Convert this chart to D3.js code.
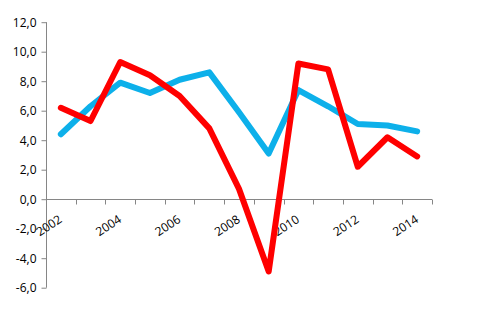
<!DOCTYPE html>
<html lang="en">
<head>
	<meta charset="UTF-8">
	<title>Chart</title>
	<style>
		body { margin: 0; background: #fff; }
		text { font-family: "Open Sans", "Liberation Sans", sans-serif; font-size: 12px; fill: #000; }
	</style>
</head>
<body>
	<script src="https://d3js.org/d3.v7.min.js"></script>
	<script>
		var years = [2002, 2003, 2004, 2005, 2006, 2007, 2008, 2009, 2010, 2011, 2012, 2013, 2014];
		var blueValues = [4.4, 6.3, 7.9, 7.2, 8.1, 8.6, 5.9, 3.1, 7.4, 6.3, 5.1, 5.0, 4.6];
		var redValues = [6.2, 5.3, 9.3, 8.4, 7.0, 4.8, 0.7, -4.9, 9.2, 8.8, 2.2, 4.2, 2.9];
		var yTicks = [-6, -4, -2, 0, 2, 4, 6, 8, 10, 12];
		var xLabels = [2002, 2004, 2006, 2008, 2010, 2012, 2014];

		var w = 491, h = 324;
		var plotLeft = 46, plotRight = 432, plotTop = 22.2, plotBottom = 287.7;

		var svg = d3.select("body").append("svg")
			.attr("width", w)
			.attr("height", h);

		var x = d3.scaleBand().domain(years).range([plotLeft, plotRight]).padding(0);
		var y = d3.scaleLinear().domain([-6, 12]).range([plotBottom, plotTop]);

		var fmt = function(d) { return d3.format(".1f")(d).replace(".", ",").replace("−", "-"); };

		// y axis
		var yAxis = svg.append("g")
			.attr("transform", "translate(" + (plotLeft + 0.5) + ",0)")
			.call(d3.axisLeft(y).tickValues(yTicks).tickFormat(fmt).tickSize(5).tickPadding(5));
		yAxis.selectAll("path, line").attr("stroke", "#868686");
		yAxis.select(".domain").attr("d", "M0," + y(-6) + "V" + y(12));
		yAxis.selectAll("text").style("font-family", "Open Sans, Liberation Sans, sans-serif").style("font-size", "12px").attr("fill", "#000");

		// x axis at zero
		var y0 = Math.round(y(0)) + 0.5;
		var xAxis = svg.append("g");
		xAxis.append("line")
			.attr("x1", plotLeft).attr("x2", plotRight)
			.attr("y1", y0).attr("y2", y0)
			.attr("stroke", "#868686");
		var bounds = years.map(function(d) { return x(d); }).concat([plotRight]);
		xAxis.selectAll("line.tick")
			.data(bounds)
			.enter()
			.append("line")
			.attr("class", "tick")
			.attr("x1", function(d) { return Math.round(d) + 0.5; })
			.attr("x2", function(d) { return Math.round(d) + 0.5; })
			.attr("y1", y0).attr("y2", y0 + 5)
			.attr("stroke", "#868686");
		xAxis.selectAll("text")
			.data(xLabels)
			.enter()
			.append("text")
			.text(function(d) { return d; })
			.attr("text-anchor", "end")
			.attr("transform", function(d) {
				return "translate(" + (x(d) + x.bandwidth() / 2 + 2) + "," + (y0 + 22) + ") rotate(-33)";
			});

		var line = d3.line()
			.x(function(d, i) { return x(years[i]) + x.bandwidth() / 2; })
			.y(function(d) { return y(d); });

		svg.append("path")
			.datum(blueValues)
			.attr("d", line)
			.attr("fill", "none")
			.attr("stroke", "#0DB0EA")
			.attr("stroke-width", 6)
			.attr("stroke-linejoin", "round")
			.attr("stroke-linecap", "round");

		svg.append("path")
			.datum(redValues)
			.attr("d", line)
			.attr("fill", "none")
			.attr("stroke", "#FF0000")
			.attr("stroke-width", 6)
			.attr("stroke-linejoin", "round")
			.attr("stroke-linecap", "round");
	</script>
</body>
</html>
